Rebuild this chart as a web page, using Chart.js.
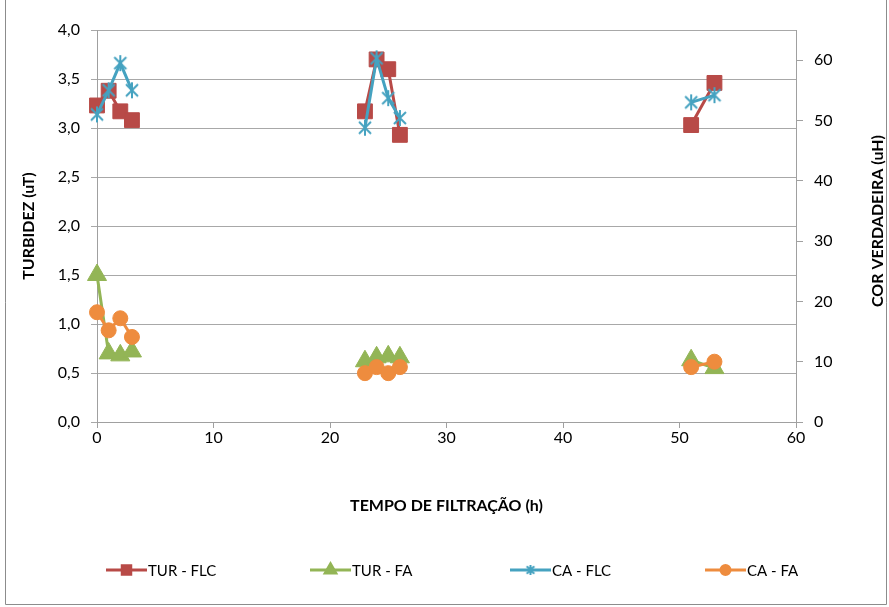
<!DOCTYPE html>
<html>
<head>
<meta charset="utf-8">
<script src="https://cdn.jsdelivr.net/npm/chart.js@4.4.0/dist/chart.umd.min.js"></script>
<style>
  html, body { margin: 0; padding: 0; background: #fff; }
  #wrap { width: 889px; height: 607px; }
</style>
</head>
<body>
<div id="wrap"><canvas id="chart" width="889" height="607"></canvas></div>
<script>
// horas de filtração
const hours = [0, 1, 2, 3, 23, 24, 25, 26, 51, 53];
// turbidez (uT) - eixo esquerdo
const turFlc = [3.23, 3.38, 3.17, 3.08, 3.17, 3.70, 3.60, 2.93, 3.03, 3.46];
const turFa = [1.50, 0.70, 0.68, 0.72, 0.62, 0.66, 0.67, 0.66, 0.63, 0.55];
// cor verdadeira (uH) - eixo direito
const caFlc = [51, 55, 59.5, 55, 48.8, 60.3, 53.7, 50.4, 53, 54.2];
const caFa = [18.2, 15.2, 17.2, 14.1, 8.1, 9.1, 8.1, 9.1, 9.1, 10];
const leftTicks = ['0,0', '0,5', '1,0', '1,5', '2,0', '2,5', '3,0', '3,5', '4,0'];

const FONT = 'Lato';
const red = '#B84A47', green = '#93B556', cyan = '#45A2C0', orange = '#EE8C3E';

// quebra a linha entre os ensaios
function toPoints(values) {
    const pts = [];
    hours.forEach((h, i) => {
        if (i > 0 && h - hours[i - 1] > 5) pts.push({x: h - 1, y: null});
        pts.push({x: h, y: values[i]});
    });
    return pts;
}

// marcador estrela do excel
function starMarker(size, color) {
    const c = document.createElement('canvas');
    c.width = size; c.height = size;
    const g = c.getContext('2d');
    const m = size / 2, r = size / 2 - 1;
    g.strokeStyle = color;
    g.lineWidth = 2;
    g.beginPath();
    g.moveTo(m - r * 0.75, m - r * 0.75); g.lineTo(m + r * 0.75, m + r * 0.75);
    g.moveTo(m + r * 0.75, m - r * 0.75); g.lineTo(m - r * 0.75, m + r * 0.75);
    g.moveTo(m, m - r); g.lineTo(m, m + r);
    g.stroke();
    return c;
}

const series = [
    {label: 'TUR - FLC', data: turFlc, axis: 'y', color: red, style: 'rect', radius: 10.5},
    {label: 'TUR - FA', data: turFa, axis: 'y', color: green, style: 'triangle', radius: 11},
    {label: 'CA - FLC', data: caFlc, axis: 'y1', color: cyan, style: starMarker(18, cyan), radius: 9},
    {label: 'CA - FA', data: caFa, axis: 'y1', color: orange, style: 'circle', radius: 7.5}
];

const legendSmall = {
    'rect': 6, 'triangle': 6, 'circle': 4.5
};

const extras = {
    id: 'extras',
    beforeDraw(chart) {
        const ctx = chart.ctx;
        ctx.save();
        ctx.strokeStyle = '#8c8c8c';
        ctx.lineWidth = 1;
        ctx.beginPath();
        ctx.moveTo(5.5, 0); ctx.lineTo(5.5, 604.5);
        ctx.lineTo(886.5, 604.5); ctx.lineTo(886.5, 0);
        ctx.stroke();
        ctx.restore();
    },
    afterDraw(chart) {
        const ctx = chart.ctx;
        ctx.save();
        // título do eixo direito
        ctx.fillStyle = '#000';
        ctx.font = 'bold 16px ' + FONT;
        ctx.textAlign = 'center';
        ctx.textBaseline = 'middle';
        ctx.translate(878, 221);
        ctx.rotate(-Math.PI / 2);
        ctx.fillText('COR VERDADEIRA (uH)', 0, 0);
        ctx.restore();

        // legenda
        const starts = [106, 310, 510, 705];
        const ly = 570;
        series.forEach((s, i) => {
            const x0 = starts[i];
            ctx.save();
            ctx.strokeStyle = s.color;
            ctx.lineWidth = 3;
            ctx.beginPath();
            ctx.moveTo(x0, ly); ctx.lineTo(x0 + 41, ly);
            ctx.stroke();
            const cx = x0 + 20.5;
            if (typeof s.style === 'string') {
                Chart.helpers.drawPoint(ctx, {pointStyle: s.style, radius: legendSmall[s.style], borderWidth: 1}, cx, ly);
                ctx.fillStyle = s.color;
                ctx.fill();
            } else {
                const img = starMarker(12, s.color);
                ctx.drawImage(img, cx - 6, ly - 6);
            }
            ctx.fillStyle = '#000';
            ctx.font = '15px ' + FONT;
            ctx.textAlign = 'left';
            ctx.textBaseline = 'middle';
            ctx.fillText(s.label, x0 + 42, ly + 1);
            ctx.restore();
        });
    }
};

new Chart(document.getElementById('chart'), {
    type: 'scatter',
    data: {
        datasets: series.map((s, i) => ({
            label: s.label,
            data: toPoints(s.data),
            yAxisID: s.axis,
            order: series.length - i,
            clip: false,
            showLine: true,
            spanGaps: false,
            borderColor: s.color,
            backgroundColor: s.color,
            borderWidth: 3,
            pointStyle: s.style,
            pointRadius: s.radius,
            pointHoverRadius: s.radius,
            pointBorderWidth: 1,
            pointBorderColor: s.color,
            pointBackgroundColor: s.color
        }))
    },
    options: {
        responsive: false,
        animation: false,
        layout: {padding: {top: 30, left: 0, right: 0, bottom: 0}},
        plugins: {
            legend: {display: false},
            tooltip: {enabled: false}
        },
        scales: {
            x: {
                type: 'linear',
                min: 0, max: 60,
                ticks: {stepSize: 10, color: '#000', font: {family: FONT, size: 16}, padding: 0, maxRotation: 0},
                grid: {drawOnChartArea: false, drawTicks: true, tickLength: 6, color: '#a0a0a0'},
                border: {color: '#a0a0a0'},
                title: {display: true, text: 'TEMPO DE FILTRAÇÃO (h)', color: '#000',
                    font: {family: FONT, size: 16, weight: 'bold'}, padding: {top: 0, bottom: 92}},
                afterFit: s => { s.height = 185; }
            },
            y: {
                position: 'left',
                min: 0, max: 4,
                ticks: {stepSize: 0.5, color: '#000', font: {family: FONT, size: 16}, padding: 11,
                    callback: (v, i) => leftTicks[i]},
                grid: {color: '#a8a8a8', tickLength: 6},
                border: {color: '#a0a0a0'},
                title: {display: true, text: 'TURBIDEZ (uT)', color: '#000',
                    font: {family: FONT, size: 16, weight: 'bold'}, padding: {top: 19, bottom: 0}},
                afterFit: s => { s.width = 97; }
            },
            y1: {
                position: 'right',
                min: 0, max: 65,
                afterBuildTicks: s => { s.ticks = s.ticks.filter(t => t.value <= 60); },
                ticks: {stepSize: 10, color: '#000', font: {family: FONT, size: 16}, padding: 11},
                grid: {drawOnChartArea: false, tickLength: 7, color: '#a0a0a0'},
                border: {color: '#a0a0a0'},
                afterFit: s => { s.width = 93; }
            }
        }
    },
    plugins: [extras]
});
</script>
</body>
</html>
